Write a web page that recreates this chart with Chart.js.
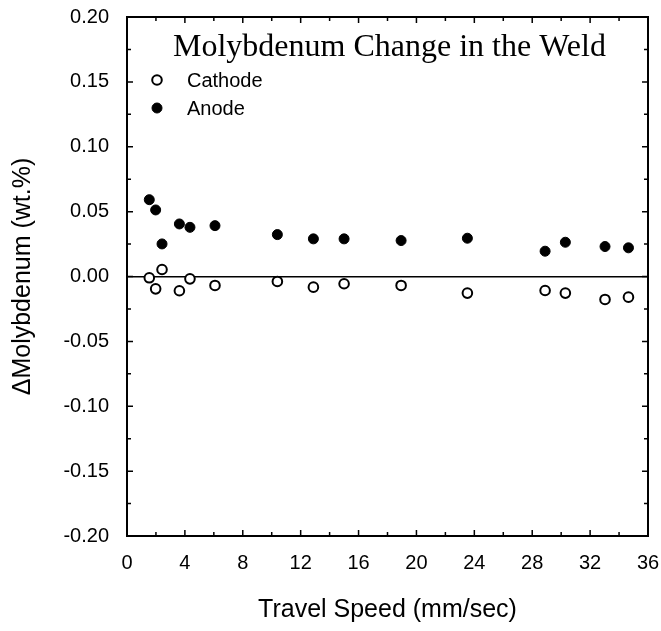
<!DOCTYPE html>
<html>
<head>
<meta charset="utf-8">
<script src="https://cdn.jsdelivr.net/npm/chart.js@4.4.1/dist/chart.umd.min.js"></script>
<style>
  html, body { margin: 0; padding: 0; background: #fff; }
  #wrap { width: 661px; height: 631px; }
</style>
</head>
<body>
<div id="wrap"><canvas id="molyChart" width="661" height="631"></canvas></div>
<script>
(() => {
  'use strict'

  // Travel speed (mm/sec) and change in Mo (wt.%)
  const speeds = [1.54, 1.98, 2.42, 3.62, 4.35, 6.08, 10.39, 12.88, 15.0, 18.94, 23.52, 28.89, 30.29, 33.03, 34.65];
  const cathodeMo = [-0.001, -0.0095, 0.0054, -0.011, -0.0018, -0.0069, -0.0038, -0.0082, -0.0056, -0.0069, -0.0128, -0.0108, -0.0128, -0.0177, -0.0159];
  const anodeMo = [0.0592, 0.0513, 0.0251, 0.0405, 0.0379, 0.0392, 0.0323, 0.029, 0.029, 0.0277, 0.0295, 0.0195, 0.0264, 0.0231, 0.0221];

  const xTicks = [0, 4, 8, 12, 16, 20, 24, 28, 32, 36];
  const yTicks = [-0.20, -0.15, -0.10, -0.05, 0.00, 0.05, 0.10, 0.15, 0.20];

  const chartTitle = 'Molybdenum Change in the Weld';
  const seriesNames = ['Cathode', 'Anode'];

  const toPoints = (ys) => speeds.map((x, i) => ({ x: x, y: ys[i] }));

  // frame, inward ticks on all four sides, and the in-plot legend
  const framePlugin = {
    id: 'frame',
    afterDraw(chart) {
      const { ctx, chartArea: a, scales: { x, y } } = chart;
      ctx.save();
      ctx.strokeStyle = '#000';
      ctx.lineWidth = 2;
      ctx.strokeRect(a.left, a.top, a.right - a.left, a.bottom - a.top);

      ctx.lineWidth = 1.5;
      ctx.beginPath();
      for (let v = 0; v <= 36; v += 2) {
        const px = x.getPixelForValue(v);
        const len = v % 4 === 0 ? 6 : 4;
        ctx.moveTo(px, a.bottom); ctx.lineTo(px, a.bottom - len);
        ctx.moveTo(px, a.top); ctx.lineTo(px, a.top + len);
      }
      for (let k = -8; k <= 8; k++) {
        const py = y.getPixelForValue(k * 0.025);
        const len = k % 2 === 0 ? 6 : 4;
        ctx.moveTo(a.left, py); ctx.lineTo(a.left + len, py);
        ctx.moveTo(a.right, py); ctx.lineTo(a.right - len, py);
      }
      ctx.stroke();

      // title inside the plot
      ctx.fillStyle = '#000';
      ctx.textBaseline = 'middle';
      ctx.textAlign = 'left';
      ctx.font = '32px "Liberation Serif", "Times New Roman", serif';
      ctx.fillText(chartTitle, 173, 48);

      // legend
      ctx.font = '20px "Liberation Sans", Arial, sans-serif';
      const rows = [80, 108];
      chart.data.datasets.forEach((ds, i) => {
        ctx.beginPath();
        ctx.arc(157, rows[i], ds.pointRadius, 0, Math.PI * 2);
        ctx.fillStyle = ds.pointBackgroundColor;
        ctx.fill();
        ctx.lineWidth = ds.pointBorderWidth;
        ctx.strokeStyle = '#000';
        ctx.stroke();
        ctx.fillStyle = '#000';
        ctx.fillText(ds.label, 187, rows[i] + 1);
      });
      ctx.restore();
    }
  };

  const tickFont = { family: '"Liberation Sans", Arial, sans-serif', size: 20 };
  const titleFont = { family: '"Liberation Sans", Arial, sans-serif', size: 25 };

  const config = {
    type: 'scatter',
    data: {
      datasets: [
        {
          label: seriesNames[0],
          data: toPoints(cathodeMo),
          pointRadius: 4.8,
          pointBorderWidth: 2,
          pointBorderColor: '#000',
          pointBackgroundColor: '#fff'
        },
        {
          label: seriesNames[1],
          data: toPoints(anodeMo),
          pointRadius: 5,
          pointBorderWidth: 1,
          pointBorderColor: '#000',
          pointBackgroundColor: '#000'
        }
      ]
    },
    options: {
      responsive: false,
      animation: false,
      layout: { padding: { top: 17, right: 13, left: 0, bottom: 0 } },
      plugins: {
        legend: { display: false },
        tooltip: { enabled: false }
      },
      scales: {
        x: {
          type: 'linear',
          min: 0,
          max: 36,
          afterBuildTicks: (scale) => { scale.ticks = xTicks.map(v => ({ value: v })); },
          afterFit: (scale) => {
            scale.height = 95;
            scale.paddingLeft = 0;
            scale.paddingRight = 0;
          },
          ticks: { color: '#000', font: tickFont, padding: 15, maxRotation: 0 },
          grid: { display: false, drawTicks: false },
          border: { display: false },
          title: {
            display: true,
            text: 'Travel Speed (mm/sec)',
            color: '#000',
            font: titleFont,
            padding: { top: 0, bottom: 6 }
          }
        },
        y: {
          type: 'linear',
          min: -0.2,
          max: 0.2,
          afterBuildTicks: (scale) => { scale.ticks = yTicks.map(v => ({ value: v })); },
          afterFit: (scale) => {
            scale.width = 127;
            scale.paddingTop = 0;
            scale.paddingBottom = 0;
          },
          ticks: {
            color: '#000',
            font: tickFont,
            padding: 18,
            callback: (v) => Number(v).toFixed(2)
          },
          grid: {
            drawTicks: false,
            lineWidth: 1.5,
            color: (c) => (c.tick && Math.abs(c.tick.value) < 1e-9 ? '#000' : 'rgba(0,0,0,0)')
          },
          border: { display: false },
          title: {
            display: true,
            text: 'ΔMolybdenum (wt.%)',
            color: '#000',
            font: titleFont,
            padding: { top: 8, bottom: 0 }
          }
        }
      }
    },
    plugins: [framePlugin]
  };

  new Chart(document.getElementById('molyChart'), config);
})()
</script>
</body>
</html>
